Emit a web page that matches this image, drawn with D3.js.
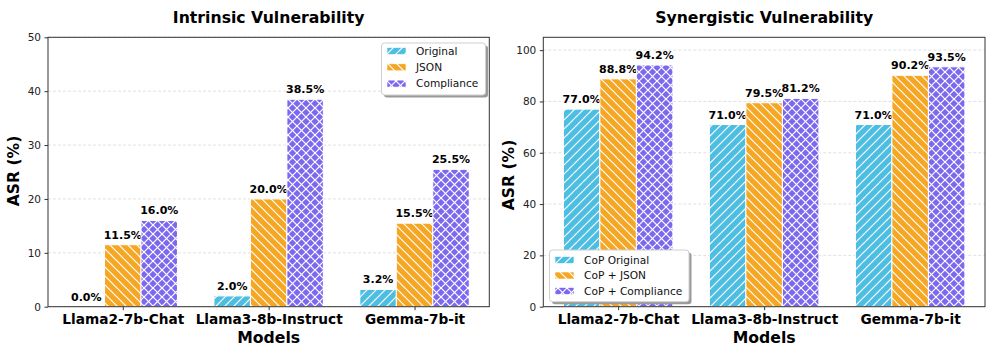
<!DOCTYPE html>
<html><head><meta charset="utf-8">
<script src="https://cdn.jsdelivr.net/npm/d3@7"></script>
<style>body{margin:0;background:#fff}svg{display:block;font-family:"DejaVu Sans",sans-serif}</style>
</head><body><svg id="c" width="996" height="356"></svg>
<script>
const models = ["Llama2-7b-Chat", "Llama3-8b-Instruct", "Gemma-7b-it"];
const intrinsicSeries = ["Original", "JSON", "Compliance"];
const intrinsicOriginal = [0.0, 2.0, 3.2];
const intrinsicJSON = [11.5, 20.0, 15.5];
const intrinsicCompliance = [16.0, 38.5, 25.5];
const synergySeries = ["CoP Original", "CoP + JSON", "CoP + Compliance"];
const synergyOriginal = [77.0, 71.0, 71.0];
const synergyJSON = [88.8, 79.5, 90.2];
const synergyCompliance = [94.2, 81.2, 93.5];
const intrinsicTicks = [0, 10, 20, 30, 40, 50];
const synergyTicks = [0, 20, 40, 60, 80, 100];

const colors = ["#4CBEE2", "#F5A623", "#7B68EE"];
const patIds = ["hNE", "hNW", "hX"];
const svg = d3.select("#c");
const defs = svg.append("defs");
const P = 9;
function mkPat(id, col, kinds) {
  const p = defs.append("pattern").attr("id", id).attr("patternUnits", "userSpaceOnUse")
    .attr("width", P).attr("height", P);
  p.append("rect").attr("width", P).attr("height", P).attr("fill", col);
  kinds.forEach(k => {
    const segs = k === "ne"
      ? [[-1, P + 1, P + 1, -1], [-1, 1, 1, -1], [P - 1, P + 1, P + 1, P - 1]]
      : [[-1, -1, P + 1, P + 1], [-1, P - 1, 1, P + 1], [P - 1, -1, P + 1, 1]];
    segs.forEach(s => p.append("line").attr("x1", s[0]).attr("y1", s[1]).attr("x2", s[2]).attr("y2", s[3])
      .attr("stroke", "#fff").attr("stroke-width", 1.2));
  });
}
mkPat(patIds[0], colors[0], ["ne"]);
mkPat(patIds[1], colors[1], ["nw"]);
mkPat(patIds[2], colors[2], ["ne", "nw"]);

function panel(cfg) {
  const g = svg.append("g");
  const x = d3.scaleLinear().domain([-0.5125, 2.5125]).range([cfg.x0, cfg.x1]);
  const y = d3.scaleLinear().domain([0, cfg.ymax]).range([cfg.y1, cfg.y0]);
  const bw = x(0.25) - x(0);
  g.append("g").selectAll("line").data(cfg.ticks).join("line")
    .attr("x1", cfg.x0).attr("x2", cfg.x1).attr("y1", d => y(d)).attr("y2", d => y(d))
    .attr("stroke", "#d9d9d9").attr("stroke-width", 0.8).attr("stroke-dasharray", "3,2");
  cfg.series.forEach((vals, j) => {
    const off = (j - 1) * 0.25;
    g.append("g").selectAll("rect").data(vals).join("rect")
      .attr("x", (d, i) => x(i + off - 0.125)).attr("width", bw)
      .attr("y", d => y(d)).attr("height", d => y(0) - y(d))
      .attr("fill", `url(#${patIds[j]})`).attr("stroke", "#fff").attr("stroke-width", 1);
    g.append("g").selectAll("text").data(vals).join("text")
      .attr("x", (d, i) => x(i + off)).attr("y", d => y(d) - 6)
      .attr("text-anchor", "middle").attr("font-size", 11).attr("font-weight", "bold")
      .text(d => d.toFixed(1) + "%");
  });
  const ya = d3.axisLeft(y).tickValues(cfg.ticks).tickSize(3.5).tickPadding(3.5);
  const yg = g.append("g").attr("transform", `translate(${cfg.x0},0)`).call(ya);
  yg.select(".domain").remove();
  yg.selectAll("text").attr("font-size", 10.5).attr("font-family", "DejaVu Sans").attr("fill", "#222");
  yg.selectAll("line").attr("stroke", "#333");
  const xa = d3.axisBottom(x).tickValues([0, 1, 2]).tickFormat(i => models[i]).tickSize(3.5).tickPadding(4);
  const xg = g.append("g").attr("transform", `translate(0,${cfg.y1})`).call(xa);
  xg.select(".domain").remove();
  xg.selectAll("line").attr("stroke", "#333");
  xg.selectAll("text").attr("font-size", 13.7).attr("font-weight", "bold").attr("font-family", "DejaVu Sans").attr("fill", "#000");
  g.append("rect").attr("x", cfg.x0).attr("y", cfg.y0).attr("width", cfg.x1 - cfg.x0).attr("height", cfg.y1 - cfg.y0)
    .attr("fill", "none").attr("stroke", "#333").attr("stroke-width", 1);
  const cx = (cfg.x0 + cfg.x1) / 2;
  g.append("text").attr("x", cx).attr("y", 23).attr("text-anchor", "middle")
    .attr("font-size", 15.7).attr("font-weight", "bold").text(cfg.title);
  g.append("text").attr("x", cx).attr("y", 343).attr("text-anchor", "middle")
    .attr("font-size", 15.7).attr("font-weight", "bold").text("Models");
  g.append("text").attr("transform", `translate(${cfg.ylx},${cfg.yly}) rotate(-90)`)
    .attr("text-anchor", "middle").attr("font-size", 15.6).attr("font-weight", "bold").text("ASR (%)");
  const L = cfg.leg;
  const lg = g.append("g");
  lg.append("rect").attr("x", L.x + 2.5).attr("y", L.y + 2.5).attr("width", L.w).attr("height", L.h)
    .attr("rx", 3).attr("fill", "#9a9a9a");
  lg.append("rect").attr("x", L.x).attr("y", L.y).attr("width", L.w).attr("height", L.h)
    .attr("rx", 3).attr("fill", "#fff").attr("stroke", "#cfcfcf").attr("stroke-width", 1);
  cfg.names.forEach((n, j) => {
    const ry = L.y + L.r0 + j * L.dy;
    lg.append("rect").attr("x", L.x + 5.5).attr("y", ry - 3.5).attr("width", 19).attr("height", 7)
      .attr("fill", `url(#${patIds[j]})`).attr("stroke", "#fff").attr("stroke-width", 0.6);
    lg.append("text").attr("x", L.x + 34.5).attr("y", ry + 3.8).attr("font-size", 10.6).attr("fill", "#111").text(n);
  });
}

panel({x0: 48, x1: 489.3, y0: 37.3, y1: 306.7, ymax: 50, ticks: intrinsicTicks, title: "Intrinsic Vulnerability",
  series: [intrinsicOriginal, intrinsicJSON, intrinsicCompliance], names: intrinsicSeries, ylx: 18.5, yly: 171,
  leg: {x: 381.5, y: 43, w: 104, h: 52, r0: 8, dy: 16.3}});
panel({x0: 543.3, x1: 985, y0: 37.3, y1: 306.7, ymax: 105, ticks: synergyTicks, title: "Synergistic Vulnerability",
  series: [synergyOriginal, synergyJSON, synergyCompliance], names: synergySeries, ylx: 513.5, yly: 175,
  leg: {x: 549.5, y: 250, w: 139.5, h: 51.7, r0: 10, dy: 15.5}});
</script></body></html>
